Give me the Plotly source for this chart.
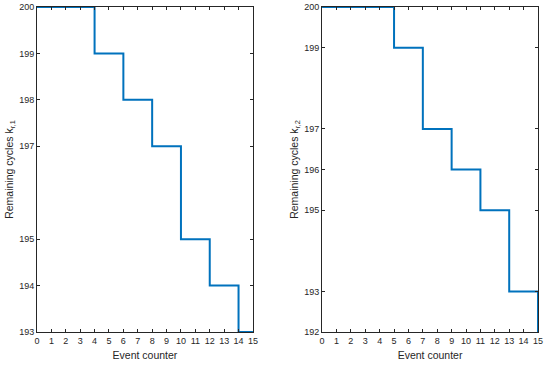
import plotly.graph_objects as go
from plotly.subplots import make_subplots

events_1 = [0, 4, 6, 8, 10, 12, 14, 15]
cycles_1 = [200, 199, 198, 197, 195, 194, 193, 193]
events_2 = [0, 5, 7, 9, 11, 13, 15]
cycles_2 = [200, 199, 197, 196, 195, 193, 192]
x_ticks = list(range(0, 16))
y_ticks_1 = [193, 194, 195, 197, 198, 199, 200]
y_ticks_2 = [192, 193, 195, 196, 197, 199, 200]

fig = make_subplots(rows=1, cols=2)
blue = "#0072BD"
fig.add_trace(go.Scatter(x=events_1, y=cycles_1, mode="lines", line=dict(shape="hv", color=blue, width=2),
                         showlegend=False), row=1, col=1)
fig.add_trace(go.Scatter(x=events_2, y=cycles_2, mode="lines", line=dict(shape="hv", color=blue, width=2),
                         showlegend=False), row=1, col=2)

axcol = "#262626"
fam = "Liberation Sans, Arial"
font = dict(family=fam, size=9, color=axcol)
tfont = dict(family=fam, size=10.5, color=axcol)
common_x = dict(range=[0, 15], tickvals=x_ticks, ticks="inside", ticklen=3, tickcolor=axcol,
                showline=True, linecolor=axcol, linewidth=1, mirror="ticks", showgrid=False,
                zeroline=False, tickfont=font, automargin=False,
                title=dict(text="Event counter", font=tfont, standoff=6))
fig.update_xaxes(**common_x)
common_y = dict(ticks="inside", ticklen=3, tickcolor=axcol, showline=True, linecolor=axcol, linewidth=1,
                mirror="ticks", showgrid=False, zeroline=False, tickfont=font, automargin=False)
fig.update_yaxes(**common_y)
fig.update_yaxes(range=[193, 200], tickvals=y_ticks_1,
                 title=dict(text="Remaining cycles k<sub>r,1</sub>", font=tfont, standoff=3),
                 row=1, col=1)
fig.update_yaxes(range=[192, 200], tickvals=y_ticks_2,
                 title=dict(text="Remaining cycles k<sub>r,2</sub>", font=tfont, standoff=3),
                 row=1, col=2)

fig.update_layout(
    width=550, height=367,
    margin=dict(l=37, r=12, t=7, b=35),
    plot_bgcolor="white", paper_bgcolor="white",
    xaxis=dict(domain=[0.0, 0.431]),
    xaxis2=dict(domain=[0.569, 1.0]),
    yaxis=dict(domain=[0.0, 1.0]),
    yaxis2=dict(domain=[0.0, 1.0]),
)
# Remove the default page margin so the figure sits at the window's top-left corner.
fig.write_html("out.html", config={"displayModeBar": False},
               post_script="document.body.style.margin='0px';")
